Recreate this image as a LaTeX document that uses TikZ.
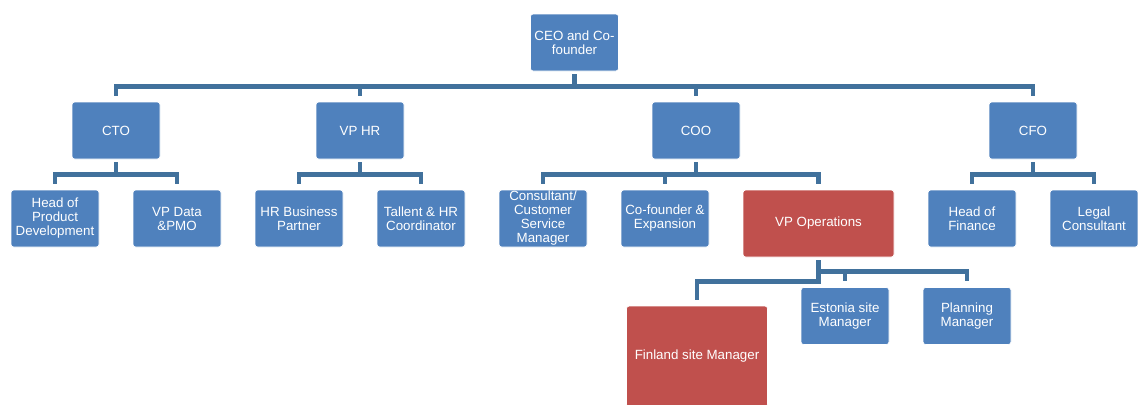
\documentclass[tikz,border=0pt]{standalone}
\usepackage{fontspec}
\setmainfont{Liberation Sans}
\usetikzlibrary{positioning}
\definecolor{boxblue}{HTML}{4F81BD}
\definecolor{boxred}{HTML}{C0504D}
\definecolor{linkblue}{HTML}{41719C}

\begin{document}
\begin{tikzpicture}[x=0.75pt,y=-0.75pt,
    every node/.style={rectangle,rounded corners=2pt,fill=boxblue,draw=white,line width=0.5pt,
      text=white,align=center,inner sep=0pt,font=\fontsize{10}{10.5}\selectfont,
      minimum width=66pt,minimum height=42.75pt},
    hot/.style={fill=boxred},
    link/.style={draw=linkblue,line width=3.6pt,shorten <=2.25pt,shorten >=4.5pt}]
    \useasboundingbox (0,0) rectangle (1138,404);

    % top
    \node (ceo) at (574.5,42.5) {CEO and Co-\\founder};
    % second row
    \node (cto) at (116,130.5) {CTO};
    \node (vphr) at (360,130.5) {VP HR};
    \node (coo) at (696,130.5) {COO};
    \node (cfo) at (1033,130.5) {CFO};
    % third row
    \node (hpd) at (55,218.5) {Head of\\Product\\Development};
    \node (vpdata) at (177,218.5) {VP Data\\\&PMO};
    \node (hrbp) at (299,218.5) {HR Business\\Partner};
    \node (thr) at (421,218.5) {Tallent \& HR\\Coordinator};
    \node (csm) at (543,218.5) {Consultant/\\Customer\\Service\\Manager};
    \node (cofe) at (665,218.5) {Co-founder \&\\Expansion};
    \node[hot,minimum width=113.25pt,minimum height=50.25pt] (vpops) at (818.5,223.5) {VP Operations};
    \node (hfin) at (972,218.5) {Head of\\Finance};
    \node (legal) at (1094,218.5) {Legal\\Consultant};
    % fourth row
    \node[hot,minimum width=105.75pt,minimum height=75.75pt] (fin) at (697,356.5) {Finland site Manager};
    \node (est) at (845,316) {Estonia site\\Manager};
    \node (plan) at (967,316) {Planning\\Manager};

    \foreach \c in {cto,vphr,coo,cfo}
    \draw[link] (ceo.south) -- ++(0,15.5) -| (\c.north);
    \foreach \p/\c in {cto/hpd,cto/vpdata,vphr/hrbp,vphr/thr,coo/csm,coo/cofe,coo/vpops,cfo/hfin,cfo/legal}
    \draw[link] (\p.south) -- ++(0,15.5) -| (\c.north);
    \draw[link] (vpops.south) -- ++(0,14.5) -| (est.north);
    \draw[link] (vpops.south) -- ++(0,14.5) -| (plan.north);
    \draw[link] (vpops.south) -- ++(0,24.5) -| (fin.north);
\end{tikzpicture}
\end{document}
